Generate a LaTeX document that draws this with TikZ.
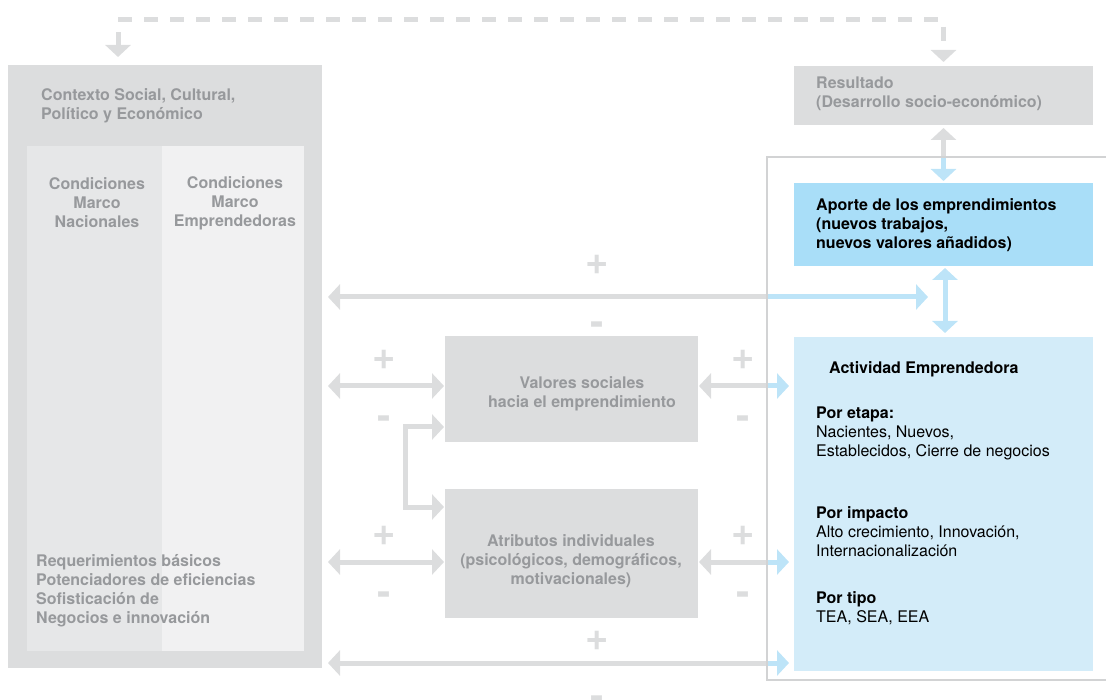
\documentclass[tikz,border=0pt]{standalone}
\usepackage{fontspec}
\setmainfont{TeX Gyre Heros}
\usetikzlibrary{arrows.meta}
\definecolor{boxgray}{HTML}{DCDDDE}
\definecolor{panelA}{HTML}{E6E7E8}
\definecolor{panelB}{HTML}{F1F1F2}
\definecolor{txtgray}{HTML}{97999C}
\definecolor{blueA}{HTML}{A9DEF8}
\definecolor{blueB}{HTML}{D3ECF9}
\definecolor{arrgray}{HTML}{DCDDDE}
\definecolor{arrblue}{HTML}{BDE4F8}
\definecolor{linegray}{HTML}{D2D3D4}
\begin{document}
\begin{tikzpicture}[x=1pt,y=-1pt,
  rectbox/.style={draw=none, anchor=north west, inner sep=0pt, outer sep=0pt},
  gtext/.style={text=txtgray, font=\fontsize{16}{19}\selectfont\bfseries, inner sep=0pt},
  btext/.style={text=black, font=\fontsize{16}{19}\selectfont\bfseries, inner sep=0pt, align=left, anchor=west},
  rtext/.style={text=black, font=\fontsize{16}{19}\selectfont, inner sep=0pt, align=left, anchor=west},
  sign/.style={text=arrgray, font=\fontsize{40}{40}\selectfont\bfseries, inner sep=0pt, anchor=base},
  tipT/.tip={Triangle[width=25pt,length=12pt]},
  grayarr/.style={draw=arrgray, line width=5pt},
  bluearr/.style={draw=arrblue, line width=5pt},
  dashline/.style={draw=arrgray, line width=5pt, dash pattern=on 14pt off 12pt},
]
\useasboundingbox (0,0) rectangle (1106,700);

% ---- boxes
\node[rectbox, fill=boxgray, minimum width=314pt, minimum height=603pt] (ctx) at (8,65) {};
\node[rectbox, fill=panelA, minimum width=135pt, minimum height=505pt] (pa) at (27,146) {};
\node[rectbox, fill=panelB, minimum width=142pt, minimum height=505pt] (pb) at (162,146) {};
\node[rectbox, fill=boxgray, minimum width=299pt, minimum height=59pt] (res) at (794,66) {};
\node[rectbox, fill=blueA, minimum width=299pt, minimum height=83pt] (apo) at (794,183) {};
\node[rectbox, fill=blueB, minimum width=299pt, minimum height=334pt] (act) at (794,337) {};
\node[rectbox, fill=boxgray, minimum width=253pt, minimum height=106pt] (val) at (445,336) {};
\node[rectbox, fill=boxgray, minimum width=253pt, minimum height=129pt] (atr) at (445,489) {};

% ---- texts
\node[gtext, align=left, anchor=west] (tctx) at (41,106) {Contexto Social, Cultural,\\Político y Económico};
\node[gtext, align=center] (tpa) at (97,203) {Condiciones\\Marco\\Nacionales};
\node[gtext, align=center] (tpb) at (235,203) {Condiciones\\Marco\\Emprendedoras};
\node[gtext, align=left, anchor=west] (treq) at (36,591) {Requerimientos básicos\\Potenciadores de eficiencias\\Sofisticación de\\Negocios e innovación};
\node[gtext, align=left, anchor=west] (tres) at (816,94) {Resultado\\(Desarrollo socio-económico)};
\node[btext] (tapo) at (816,225) {Aporte de los emprendimientos\\(nuevos trabajos,\\nuevos valores añadidos)};
\node[gtext, align=center] (tval) at (582,394) {Valores sociales\\hacia el emprendimiento};
\node[gtext, align=center] (tatr) at (571,561) {Atributos individuales\\(psicológicos, demográficos,\\motivacionales)};
\node[btext] (tact) at (829,369) {Actividad Emprendedora};
\node[rtext] (tet) at (816,433) {\textbf{Por etapa:}\\Nacientes, Nuevos,\\Establecidos, Cierre de negocios};
\node[rtext] (tim) at (816,532) {\textbf{Por impacto}\\Alto crecimiento, Innovación,\\Internacionalización};
\node[rtext] (tti) at (816,608) {\textbf{Por tipo}\\TEA, SEA, EEA};

% ---- helper coordinates
\coordinate (d1) at (118,20);
\coordinate (d2) at (943.5,20);
\coordinate (s1) at (767,297);
\coordinate (t1) at (928,297);
\coordinate (s4) at (767,663);
\coordinate (oc) at (767,157);

% ---- dashed feedback
\draw[dashline, {tipT[sep=0pt]}-{tipT}, shorten <=8pt, shorten >=4pt]
  (d1 |- ctx.north) -- (d1) -- (d2) -- (d2 |- res.north);

% ---- top long arrow
\draw[grayarr, tipT-, shorten <=6pt] (ctx.east |- s1) -- (s1);
\draw[bluearr, -tipT] (s1) -- (t1);

% ---- Resultado <-> Aporte
\draw[grayarr, tipT-, shorten <=3pt] (res.south) -- (res.south |- oc);
\draw[bluearr, -tipT, shorten >=2pt] (res.south |- oc) -- (apo.north);

% ---- Aporte <-> Actividad
\draw[bluearr, tipT-tipT, shorten <=2pt, shorten >=4pt] ([xshift=1.5pt]apo.south) -- ([xshift=1.5pt]act.north);

% ---- Valores
\coordinate (vy) at (0,386);
\draw[grayarr, tipT-tipT, shorten <=6pt, shorten >=1pt] (ctx.east |- vy) -- (val.west |- vy);
\draw[grayarr, tipT-, shorten <=1pt] (val.east |- vy) -- (s1 |- vy);
\draw[bluearr, -tipT, shorten >=5pt] (s1 |- vy) -- (act.west |- vy);

% ---- Atributos
\coordinate (ay) at (0,562);
\draw[grayarr, tipT-tipT, shorten <=6pt, shorten >=1pt] (ctx.east |- ay) -- (atr.west |- ay);
\draw[grayarr, tipT-, shorten <=1pt] (atr.east |- ay) -- (s1 |- ay);
\draw[bluearr, -tipT, shorten >=5pt] (s1 |- ay) -- (act.west |- ay);

% ---- Valores <-> Atributos
\draw[grayarr, tipT-tipT, shorten <=1pt, shorten >=1pt]
  ([yshift=15pt]val.south west) -- ++(-40,0) |- ([yshift=-18pt]atr.north west);

% ---- bottom long arrow
\draw[grayarr, tipT-, shorten <=6pt] (ctx.east |- s4) -- (s4);
\draw[bluearr, -tipT, shorten >=5pt] (s4) -- (act.west |- s4);

% ---- outline
\draw[draw=linegray, line width=2pt] (1110,157) -- (oc) -- (767,680) -- (1110,680);

% ---- signs
\node[sign] (p1) at (597.5,275) {+};
\node[sign] (m1) at (597.5,335.5) {-};
\node[sign] (p2) at (384,370) {+};
\node[sign] (m2) at (384,430) {-};
\node[sign] (p3) at (743,370) {+};
\node[sign] (m3) at (743,430) {-};
\node[sign] (p4) at (384,545) {+};
\node[sign] (m4) at (384,605) {-};
\node[sign] (p5) at (743,545) {+};
\node[sign] (m5) at (743,605) {-};
\node[sign] (p6) at (597.5,650) {+};
\node[sign] (m6) at (597.5,709) {-};
\end{tikzpicture}
\end{document}
